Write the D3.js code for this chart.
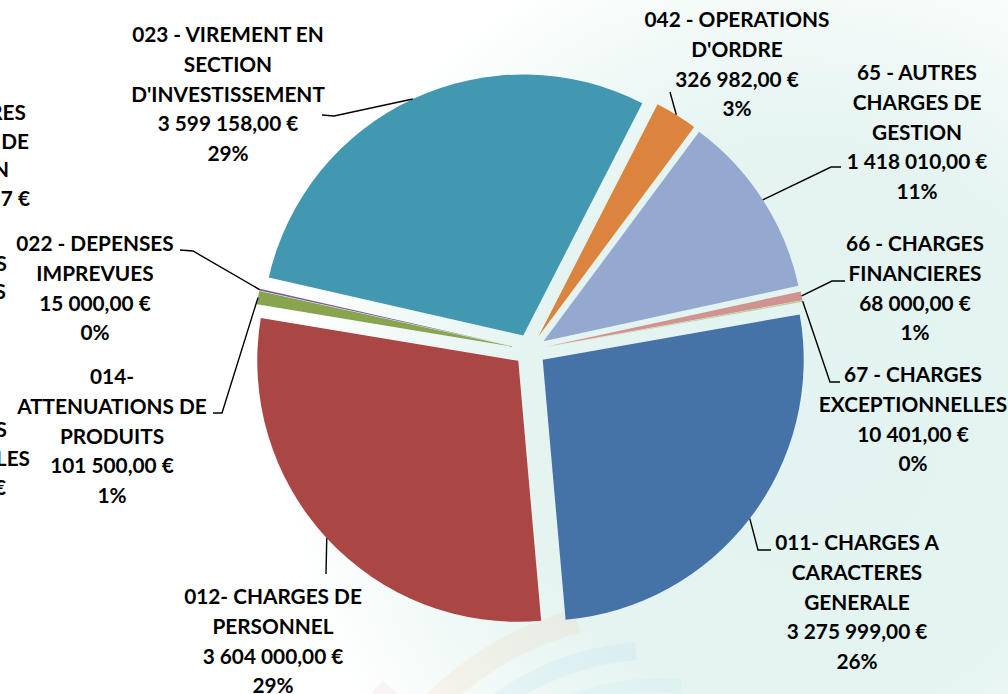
<!DOCTYPE html>
<html><head><meta charset="utf-8">
<script src="https://cdn.jsdelivr.net/npm/d3@7"></script>
<style>html,body{margin:0;padding:0;background:#fff;overflow:hidden}</style>
</head><body>
<svg id="chart" width="1008" height="694"></svg>
<script>
// ---------------- DATA ----------------
const categories = [
  "011- CHARGES A CARACTERES GENERALE",
  "012- CHARGES DE PERSONNEL",
  "014- ATTENUATIONS DE PRODUITS",
  "022 - DEPENSES IMPREVUES",
  "023 - VIREMENT EN SECTION D'INVESTISSEMENT",
  "042 - OPERATIONS D'ORDRE",
  "65 - AUTRES CHARGES DE GESTION",
  "66 - CHARGES FINANCIERES",
  "67 - CHARGES EXCEPTIONNELLES"
];
const labelLines = [
  ["011- CHARGES A", "CARACTERES", "GENERALE"],
  ["012- CHARGES DE", "PERSONNEL"],
  ["014-", "ATTENUATIONS DE", "PRODUITS"],
  ["022 - DEPENSES", "IMPREVUES"],
  ["023 - VIREMENT EN", "SECTION", "D'INVESTISSEMENT"],
  ["042 - OPERATIONS", "D'ORDRE"],
  ["65 - AUTRES", "CHARGES DE", "GESTION"],
  ["66 - CHARGES", "FINANCIERES"],
  ["67 - CHARGES", "EXCEPTIONNELLES"]
];
const values = [3275999, 3604000, 101500, 15000, 3599158, 326982, 1418010, 68000, 10401];
const sliceColors = ["#4673A7", "#AA4644", "#88A44E", "#7A5C9E", "#4298B0", "#DA843E", "#93A9CF", "#D09392", "#B7CF92"];
// clipped fragments of labels of a neighbouring chart at the left edge
const leftFragments = ["RES", "DE", "N", "7 €", "S", "S", "S", "LES", "€"];

// ---------------- LAYOUT ----------------
const W = 1008, H = 694;
const cx = 530, cy = 350, R = 261, explode = 16;
const startDeg = 80;
const lineH = 29.6;
const fontSize = 20.8;
// label block: center x, first line center y, leader elbow points (after arc anchor)
const labelLayout = [
  {x: 857, y: 543, leader: [[758, 550], [771, 550]]},
  {x: 273, y: 597, leader: [[326, 574]]},
  {x: 112, y: 377, leader: [[222, 413], [213, 413]]},
  {x: 95,  y: 244, leader: [[193, 251], [180, 250]]},
  {x: 228, y: 35,  leader: [[334, 116], [322, 115]]},
  {x: 737, y: 20,  leader: [[670, 92]]},
  {x: 917, y: 73,  leader: [[831, 167], [841, 167]]},
  {x: 915, y: 244, leader: [[832, 281], [845, 281]]},
  {x: 913, y: 375, leader: [[830, 382], [840, 382]]}
];
const fragLayout = [
  {x: 26, y: 113}, {x: 29, y: 142}, {x: 9, y: 170}, {x: 30, y: 199},
  {x: 7, y: 264}, {x: 6, y: 292}, {x: 7, y: 430}, {x: 30, y: 459}, {x: 6, y: 488}
];

const svg = d3.select("#chart");
const defs = svg.append("defs");

// ---------------- BACKGROUND ----------------
const rg = defs.append("radialGradient").attr("id", "bgGrad")
  .attr("gradientUnits", "userSpaceOnUse")
  .attr("cx", 800).attr("cy", 430).attr("r", 520);
rg.append("stop").attr("offset", "0%").attr("stop-color", "#e2f3f1");
rg.append("stop").attr("offset", "55%").attr("stop-color", "#e5f4f1");
rg.append("stop").attr("offset", "80%").attr("stop-color", "#f2faf8");
rg.append("stop").attr("offset", "100%").attr("stop-color", "#ffffff");
svg.append("rect").attr("width", W).attr("height", H).attr("fill", "#fff");
svg.append("rect").attr("width", W).attr("height", H).attr("fill", "url(#bgGrad)");

// faint decorative arcs at the bottom
const deco = svg.append("g").attr("transform", "translate(660,930)").attr("opacity", 0.09);
const decoBands = [
  {r: 360, w: 26, c: "#f08cc0", a0: -68, a1: -48},
  {r: 320, w: 24, c: "#f6a860", a0: -62, a1: -15},
  {r: 280, w: 18, c: "#7cc4ee", a0: -50, a1: -5},
  {r: 245, w: 14, c: "#9fd6f4", a0: -40, a1: 5},
  {r: 205, w: 14, c: "#a8dcb0", a0: -25, a1: 15}
];
deco.selectAll("path").data(decoBands).join("path")
  .attr("d", d => d3.arc()({innerRadius: d.r - d.w / 2, outerRadius: d.r + d.w / 2,
      startAngle: d.a0 * Math.PI / 180, endAngle: d.a1 * Math.PI / 180}))
  .attr("fill", d => d.c);

// ---------------- PIE ----------------
const total = d3.sum(values);
const pie = d3.pie().sort(null).value(d => d)
  .startAngle(startDeg * Math.PI / 180)
  .endAngle(startDeg * Math.PI / 180 + 2 * Math.PI);
const arcs = pie(values);
const arcGen = d3.arc().innerRadius(0).outerRadius(R);

function offsetOf(a) {
  const m = (a.startAngle + a.endAngle) / 2;
  return [explode * Math.sin(m), -explode * Math.cos(m)];
}
function anchorOf(a) {
  const m = (a.startAngle + a.endAngle) / 2;
  const o = offsetOf(a);
  return [cx + o[0] + R * Math.sin(m), cy + o[1] - R * Math.cos(m)];
}

const gPie = svg.append("g").attr("transform", `translate(${cx},${cy})`);
gPie.selectAll("path").data(arcs).join("path")
  .attr("transform", d => { const o = offsetOf(d); return `translate(${o[0]},${o[1]})`; })
  .attr("d", arcGen)
  .attr("fill", (d, i) => sliceColors[i]);

// ---------------- LEADERS ----------------
svg.append("g").selectAll("path").data(arcs).join("path")
  .attr("d", (d, i) => d3.line()([anchorOf(d), ...labelLayout[i].leader]))
  .attr("fill", "none").attr("stroke", "#000").attr("stroke-width", 1.4);

// ---------------- LABELS ----------------
const loc = d3.formatLocale({decimal: ",", thousands: " ", grouping: [3], currency: ["", " €"]});
const fmtVal = loc.format("$,.2f");
const fmtPct = v => Math.round(v / total * 100) + "%";

const gLab = svg.append("g")
  .attr("font-family", "Lato, 'Open Sans', sans-serif")
  .attr("font-weight", 700).attr("font-size", fontSize).attr("fill", "#000")
  .attr("text-anchor", "middle");
values.forEach((v, i) => {
  const lines = labelLines[i].concat([fmtVal(v), fmtPct(v)]);
  const L = labelLayout[i];
  const t = gLab.append("text");
  lines.forEach((s, k) => {
    t.append("tspan").attr("x", L.x).attr("y", L.y + k * lineH).attr("dy", "0.36em").text(s);
  });
});

svg.append("g")
  .attr("font-family", "Lato, 'Open Sans', sans-serif")
  .attr("font-weight", 700).attr("font-size", fontSize).attr("fill", "#000")
  .attr("text-anchor", "end")
  .selectAll("text").data(leftFragments).join("text")
  .attr("x", (d, i) => fragLayout[i].x).attr("y", (d, i) => fragLayout[i].y)
  .attr("dy", "0.36em").text(d => d);
</script>
</body></html>
